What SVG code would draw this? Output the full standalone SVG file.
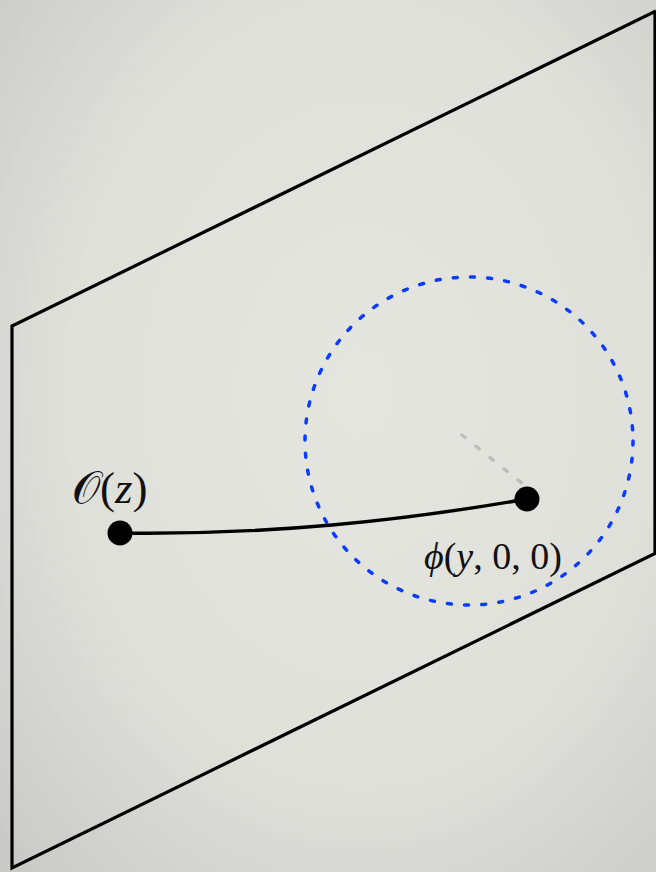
<svg xmlns="http://www.w3.org/2000/svg" width="656" height="872" viewBox="0 0 656 872">
<defs>
<radialGradient id="bg" cx="55%" cy="45%" r="75%">
<stop offset="0" stop-color="#e6e6e1"/>
<stop offset="0.6" stop-color="#e0e0db"/>
<stop offset="1" stop-color="#cacac6"/>
</radialGradient>
<style>
.edge{fill:none;stroke:#000;stroke-width:3.2;stroke-linejoin:miter}
.dot{fill:#000}
.lbl{font-family:"Liberation Serif","DejaVu Serif",serif;fill:#111}
.it{font-style:italic}
</style>
</defs>
<rect width="656" height="872" fill="url(#bg)"/>
<g id="plane">
<path class="edge" d="M656,11 L12,326 L12,868 L656,553 M655,11 L655,553"/>
</g>
<g id="region">
<circle cx="469" cy="441" r="164" fill="none" stroke="#0a3cff" stroke-width="3.5" stroke-linecap="round" stroke-dasharray="4 13.2"/>
</g>
<g id="connectors">
<path d="M462,435 L523,484" fill="none" stroke="#bdbdbd" stroke-width="3.5" stroke-linecap="round" stroke-dasharray="4 14"/>
<path d="M120,533 C270,535 400,521 527,499" fill="none" stroke="#000" stroke-width="3.4"/>
</g>
<g id="node-O">
<circle class="dot" cx="120" cy="533" r="12.5"/>
<text class="lbl" x="72" y="503" font-size="45">𝒪(<tspan font-style="italic">z</tspan>)</text>
</g>
<g id="node-phi">
<circle class="dot" cx="527" cy="499" r="12.5"/>
<text class="lbl" x="424" y="569" font-size="38"><tspan font-style="italic">ϕ</tspan>(<tspan font-style="italic">y</tspan>, 0, 0)</text>
</g>
</svg>
